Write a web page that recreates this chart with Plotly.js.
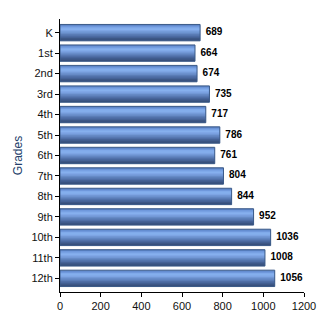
<!DOCTYPE html>
<html>
<head>
<meta charset="utf-8">
<script src="https://cdn.plot.ly/plotly-3.0.1.min.js"></script>
<style>html,body{margin:0;padding:0;background:#fff;}#chart{width:330px;height:330px;}</style>
</head>
<body>
<div id="chart"></div>
<script>
const grades = ["K","1st","2nd","3rd","4th","5th","6th","7th","8th","9th","10th","11th","12th"];
const values = [689, 664, 674, 735, 717, 786, 761, 804, 844, 952, 1036, 1008, 1056];
const xTicks = [0, 200, 400, 600, 800, 1000, 1200];

// gradient stripes (top to bottom of each bar)
const stripeColors = ["#5b83c6","#6f98dc","#80aaea","#86b0ee","#7ea5e4","#7298d6",
                      "#668ac6","#5a7cb6","#4f6ea6","#456296","#3d5786","#364e7a"];
const barW = 0.8;
const h = barW / stripeColors.length;
const traces = [];
stripeColors.forEach((c, i) => {
  const last = i === stripeColors.length - 1;
  traces.push({
    type: "bar", orientation: "h",
    x: values, y: grades,
    width: grades.map(() => last ? h : h * 1.8),
    offset: grades.map(() => -barW/2 + i*h),
    marker: {color: c, line: {width: 0}},
    hoverinfo: "skip", showlegend: false
  });
});
// outline
traces.push({
  type: "bar", orientation: "h",
  x: values, y: grades,
  width: grades.map(() => barW),
  offset: grades.map(() => -barW/2),
  marker: {color: "rgba(0,0,0,0)", line: {width: 1, color: "#3b5a88"}},
  hoverinfo: "skip", showlegend: false
});
// labels
traces.push({
  type: "scatter", mode: "text",
  x: values, y: grades,
  text: values.map(v => "  " + v),
  textposition: "middle right",
  textfont: {family: "Liberation Sans, Arial, sans-serif", size: 10, color: "#000", weight: "bold"},
  hoverinfo: "skip", showlegend: false, cliponaxis: false
});

const layout = {
  width: 330, height: 330,
  margin: {l: 60, r: 26, t: 19, b: 38},
  paper_bgcolor: "#fff", plot_bgcolor: "#fff",
  barmode: "overlay",
  font: {family: "Liberation Sans, Arial, sans-serif", size: 11, color: "#000"},
  xaxis: {
    range: [0, 1200], tickvals: xTicks, ticktext: xTicks.map(String),
    showgrid: false, zeroline: false,
    showline: true, linecolor: "#000", linewidth: 1,
    ticks: "outside", ticklen: 4, tickcolor: "#000",
    tickfont: {size: 11, color: "#111"}
  },
  yaxis: {
    type: "category", autorange: "reversed",
    showgrid: false, zeroline: false,
    showline: true, linecolor: "#000", linewidth: 1,
    ticks: "outside", ticklen: 4, tickcolor: "#000",
    tickfont: {size: 11, color: "#111"},
    title: {text: "Grades", font: {size: 12, color: "#243f6b"}, standoff: 6}
  }
};
Plotly.newPlot("chart", traces, layout, {staticPlot: true, displayModeBar: false});
</script>
</body>
</html>
